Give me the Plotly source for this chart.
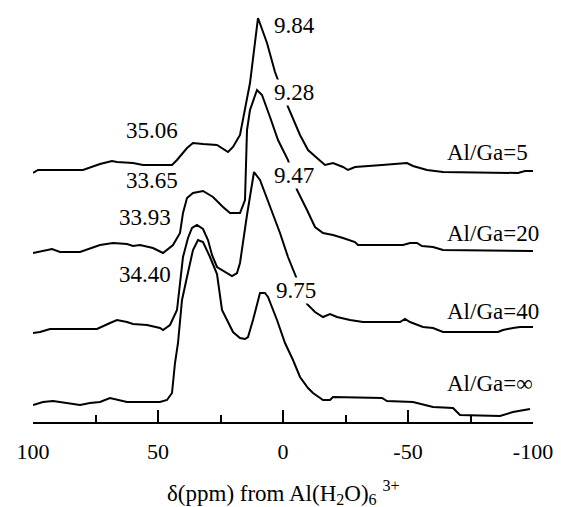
import plotly.graph_objects as go

# ---- data (ppm, intensity above each spectrum's own baseline) ----
ppm_5 = [100.0, 98.0, 80.0, 78.0, 73.2, 68.4, 66.4, 60.0, 56.0, 44.4, 42.4, 38.4, 36.0, 32.0,
         26.4, 22.0, 20.0, 17.2, 13.2, 10.0, 6.4, 3.2, -2.0, -6.8, -10.0, -13.6, -16.8, -20.0,
         -24.0, -26.0, -28.8, -39.6, -46.8, -49.6, -52.0, -57.6, -64.0, -94.0, -96.8, -100.8]
int_5 = [-1, 2, 2, 4, 8, 11, 10, 9, 7, 7, 12, 24, 29, 28,
         27, 20, 25, 37, 89, 154, 129, 100, 65, 37, 22, 14, 7, 9,
         5, 2, 5, 7, 8, 9, 6, 2, 0, -1, 1, 1]

ppm_20 = [100, 96, 92.4, 89.2, 81.2, 73.2, 68, 62.4, 60, 57.2, 52, 48, 44, 41.2, 40, 38.4, 36,
          32, 28, 24, 21.2, 17.2, 15.2, 14.4, 13.2, 10.4, 8.4, 5.2, 2, -2, -5.6, -9.6, -12.8,
          -16, -20, -24, -28.8, -30, -48, -50.8, -53.6, -55.6, -60, -64, -100.8]
int_20 = [-2, 0, 2, -1, -1, 6, 8, 7, 5, 6, 3, -2, 6, 18, 38, 53, 58,
          60, 54, 44, 38, 38, 51, 121, 141, 161, 156, 134, 111, 91, 61, 41, 24,
          18, 16, 13, 9, 6, 6, 8, 8, 5, 4, 1, 0]

ppm_40 = [100, 97.2, 93.2, 74.4, 69.2, 66.4, 62.4, 60, 54.4, 49.2, 48, 45.2, 42.4, 41.2, 40,
          38, 36.4, 34.4, 32, 30, 28.4, 26.4, 22.4, 20.4, 18.4, 17.2, 14.4, 11.6, 9.2, 5.2,
          1.2, -2, -4.8, -9.6, -12.8, -16, -18.8, -21.6, -26.8, -32, -46.8, -48.8, -50.8,
          -56, -60, -64, -86, -88, -92, -94.8, -100.8]
int_40 = [-5, -4, -1, -1, 5, 8, 6, 4, 3, 0, -2, 3, 18, 45, 71,
          90, 100, 103, 99, 88, 73, 61, 55, 52, 55, 65, 113, 156, 148, 121,
          95, 71, 53, 24, 16, 11, 14, 11, 8, 6, 6, 9, 6,
          1, 0, -4, -4, -2, 0, 1, 1]

ppm_inf = [100, 96, 92, 86.4, 81.2, 77.2, 73.2, 69.2, 62.4, 49.2, 46.4, 44.4, 43.2, 42, 40.4,
           38.4, 37.2, 36, 34, 32, 29.2, 27.2, 26.4, 24.4, 22.4, 20, 17.2, 15.2, 14, 12, 9.2,
           7.2, 6, 2.4, -0.8, -4, -6.8, -10, -12, -16, -18.8, -20, -39.6, -41.6, -52, -60,
           -68, -70.8, -86.8, -92, -98.8]
int_inf = [0, 3, 4, 2, 0, 2, 3, 7, 3, 3, 5, 12, 42, 62, 105,
           128, 140, 155, 165, 163, 148, 135, 131, 95, 85, 73, 67, 66, 68, 85, 112,
           112, 108, 85, 62, 45, 28, 17, 12, 5, 5, 8, 7, 4, 3, -2,
           -3, -10, -11, -7, -4]

series_names = ["Al/Ga=5", "Al/Ga=20", "Al/Ga=40", "Al/Ga=∞"]
stack_offset = [250, 171, 94, 17]

peak_low = ["9.84", "9.28", "9.47", "9.75"]
peak_high = ["35.06", "33.65", "33.93", "34.40"]

tick_vals = [100, 50, 0, -50, -100]
tick_text = ["100", "50", "0", "-50", "-100"]

FONT = "'Liberation Serif', 'Times New Roman', Times, serif"

fig = go.Figure()
all_x = [ppm_5, ppm_20, ppm_40, ppm_inf]
all_y = [int_5, int_20, int_40, int_inf]
for xs, ys, off, name in zip(all_x, all_y, stack_offset, series_names):
    fig.add_trace(go.Scatter(x=xs, y=[v + off for v in ys], mode="lines",
                             line=dict(color="black", width=2), name=name,
                             showlegend=False, hoverinfo="skip"))

ann = []
# series labels at the right
name_y = [270, 189, 111, 39]
for name, yy in zip(series_names, name_y):
    ann.append(dict(x=-64.8, y=yy, text=name, xanchor="left", yanchor="middle",
                    showarrow=False, font=dict(family=FONT, size=23, color="black")))
# low-field peak labels (white box hides the line behind them)
low_pos = [(4.0, 397), (4.0, 330), (4.0, 247), (3.2, 132)]
for t, (xx, yy) in zip(peak_low, low_pos):
    ann.append(dict(x=xx, y=yy, text=t, xanchor="left", yanchor="middle", showarrow=False,
                    bgcolor="white", borderpad=0,
                    font=dict(family=FONT, size=23, color="black")))
high_pos = [(52.4, 292), (52.4, 242), (55.2, 205), (55.2, 148)]
for t, (xx, yy) in zip(peak_high, high_pos):
    ann.append(dict(x=xx, y=yy, text=t, xanchor="center", yanchor="middle", showarrow=False,
                    font=dict(family=FONT, size=23, color="black")))
# axis title
ann.append(dict(x=0.5, y=-0.17, xref="paper", yref="paper",
                text="δ(ppm) from Al(H<sub>2</sub>O)<sub>6</sub> <sup>3+</sup>",
                xanchor="center", yanchor="middle", showarrow=False,
                font=dict(family=FONT, size=23, color="black")))

fig.update_layout(
    width=561, height=507,
    margin=dict(l=33, r=28, t=10, b=85, autoexpand=False),
    paper_bgcolor="white", plot_bgcolor="white",
    annotations=ann,
    xaxis=dict(range=[100, -100], showgrid=False, zeroline=False, automargin=False,
               showline=True, linecolor="black", linewidth=2,
               ticks="inside", ticklen=12, tickwidth=2, tickcolor="black",
               tickmode="array", tickvals=tick_vals, ticktext=tick_text,
               ticklabelstandoff=9,
               tickfont=dict(family=FONT, size=22, color="black"),
               minor=dict(dtick=25, tick0=0, ticks="inside", ticklen=7,
                          tickwidth=2, tickcolor="black", showgrid=False)),
    yaxis=dict(range=[0, 412], visible=False, showgrid=False, zeroline=False,
               automargin=False),
)

fig.write_html("out.html", config={"displayModeBar": False},
               post_script="document.body.style.margin='0px';document.body.style.padding='0px';")
